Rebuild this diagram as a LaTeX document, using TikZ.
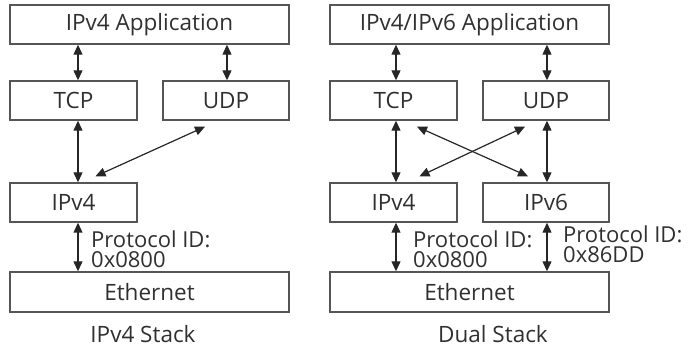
\documentclass[tikz,border=0pt]{standalone}
\usepackage{fontspec}
\setmainfont{Open Sans}
\usetikzlibrary{arrows.meta}
\definecolor{txt}{HTML}{303030}
\definecolor{bord}{HTML}{555555}
\tikzset{
  layer/.style={draw=bord, line width=1.4pt, fill=white, inner sep=0pt, text=txt, font=\fontsize{22.5}{24}\selectfont},
  dbl/.style={line width=1.2pt, {Triangle[length=10pt,width=9pt]}-{Triangle[length=10pt,width=9pt]}, black!85},
  lbl/.style={text=txt, font=\fontsize{22}{20}\selectfont, align=left, inner sep=0pt, anchor=north west},
  stackcap/.style={text=txt, font=\fontsize{22.5}{24}\selectfont, inner sep=0pt}
}
\begin{document}
\begin{tikzpicture}[x=1pt,y=-1pt]
\useasboundingbox (0,0) rectangle (691,349);
% left stack
\node[layer, minimum width=279pt, minimum height=39pt] (app1) at (149.5,24.5) {IPv4 Application};
\node[layer, minimum width=127pt, minimum height=39pt] (tcp1) at (73.5,100.5) {TCP};
\node[layer, minimum width=126pt, minimum height=39pt] (udp1) at (226,100.5) {UDP};
\node[layer, minimum width=127pt, minimum height=39pt] (ip41) at (73.5,202.5) {IPv4};
\node[layer, minimum width=279pt, minimum height=40pt] (eth1) at (149.5,292) {Ethernet};
\node[stackcap] (cap1) at (143,334) {IPv4 Stack};
\draw[dbl] ([xshift=4.5pt]tcp1.north |- app1.south) -- ([xshift=4.5pt]tcp1.north);
\draw[dbl] ([xshift=1pt]udp1.north |- app1.south) -- ([xshift=1pt]udp1.north);
\draw[dbl] ([xshift=4.5pt]tcp1.south) -- ([xshift=4.5pt]ip41.north);
\draw[dbl] ([xshift=-21pt,yshift=-6pt]udp1.south) -- ([xshift=22pt,yshift=6pt]ip41.north);
\draw[dbl] ([xshift=4.5pt]ip41.south) -- ([xshift=4.5pt]eth1.north -| ip41.south);
\node[lbl] (pid1) at (91,231) {Protocol ID:\\0x0800};
% right stack
\node[layer, minimum width=279pt, minimum height=39pt] (app2) at (469.5,24.5) {IPv4/IPv6 Application};
\node[layer, minimum width=127pt, minimum height=39pt] (tcp2) at (393.5,100.5) {TCP};
\node[layer, minimum width=126pt, minimum height=39pt] (udp2) at (546,100.5) {UDP};
\node[layer, minimum width=127pt, minimum height=39pt] (ip42) at (393.5,202.5) {IPv4};
\node[layer, minimum width=126pt, minimum height=39pt] (ip62) at (546,202.5) {IPv6};
\node[layer, minimum width=279pt, minimum height=40pt] (eth2) at (469.5,292) {Ethernet};
\node[stackcap] (cap2) at (493,334) {Dual Stack};
\draw[dbl] ([xshift=2.5pt]tcp2.north |- app2.south) -- ([xshift=2.5pt]tcp2.north);
\draw[dbl] ([xshift=1pt]udp2.north |- app2.south) -- ([xshift=1pt]udp2.north);
\draw[dbl] ([xshift=2.5pt]tcp2.south) -- ([xshift=2.5pt]ip42.north);
\draw[dbl] ([xshift=1pt]udp2.south) -- ([xshift=1pt]ip62.north);
\draw[dbl] ([xshift=-21pt,yshift=-6pt]udp2.south) -- ([xshift=26pt,yshift=6pt]ip42.north);
\draw[dbl] ([xshift=23.5pt,yshift=-6pt]tcp2.south) -- ([xshift=-18pt,yshift=6pt]ip62.north);
\draw[dbl] ([xshift=2.5pt]ip42.south) -- ([xshift=2.5pt]eth2.north -| ip42.south);
\draw[dbl] ([xshift=1pt]ip62.south) -- ([xshift=1pt]eth2.north -| ip62.south);
\node[lbl] (pid2) at (413,231) {Protocol ID:\\0x0800};
\node[lbl] (pid3) at (563,226) {Protocol ID:\\0x86DD};
\end{tikzpicture}
\end{document}
